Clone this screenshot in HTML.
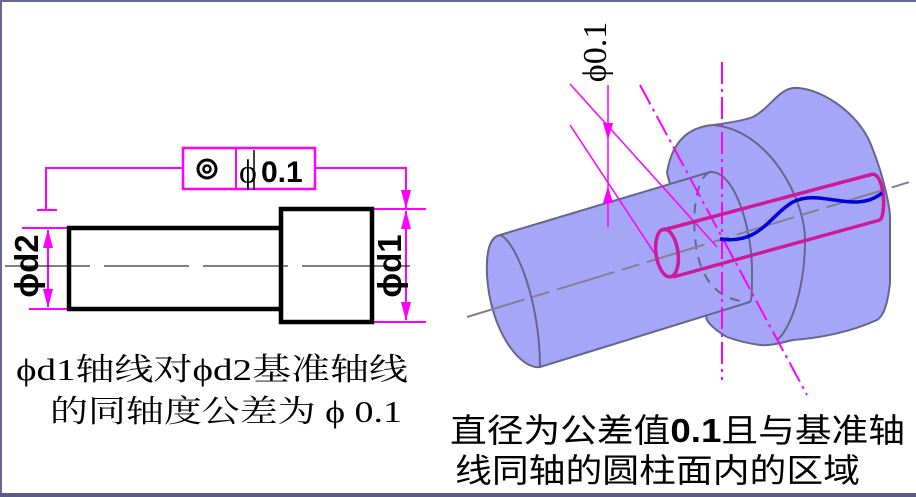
<!DOCTYPE html>
<html><head><meta charset="utf-8"><style>
html,body{margin:0;padding:0;background:#fff}
svg{display:block}
</style></head><body>
<svg width="916" height="497" viewBox="0 0 916 497" xmlns="http://www.w3.org/2000/svg">
<rect width="916" height="497" fill="#fff"/>
<rect x="0" y="0" width="916" height="2" fill="#66669a"/>
<rect x="0" y="0" width="2" height="497" fill="#66669a"/>
<rect x="0" y="493" width="916" height="4" fill="#5a5a88"/>

<!-- Left drawing -->
<g stroke="#ff00ff" stroke-width="2" fill="none">
  <polyline points="183,168 46,168 46,210"/>
  <line x1="37" y1="210" x2="57" y2="210"/>
  <polyline points="315,168 406,168 406,208"/>
  <rect x="183" y="148" width="132" height="41" stroke-width="2.5"/>
  <line x1="236" y1="148" x2="236" y2="189"/>
  <line x1="22" y1="228" x2="70" y2="228"/>
  <line x1="29" y1="309" x2="70" y2="309"/>
  <line x1="48" y1="230" x2="48" y2="307"/>
  <line x1="372" y1="209" x2="426" y2="209"/>
  <line x1="372" y1="322" x2="426" y2="322"/>
  <line x1="406" y1="211" x2="406" y2="320"/>
</g>
<g fill="#ff00ff">
  <polygon points="401,190 411,190 406,209"/>
  <polygon points="401,229 411,229 406,210"/>
  <polygon points="401,302 411,302 406,321"/>
  <polygon points="43,248 53,248 48,229"/>
  <polygon points="43,289 53,289 48,308"/>
</g>
<circle cx="207" cy="169" r="9" fill="none" stroke="#000" stroke-width="3"/>
<circle cx="207" cy="169" r="3.5" fill="none" stroke="#000" stroke-width="2.5"/>
<text x="239" y="183" font-family="Liberation Serif, serif" font-size="34">ϕ</text>
<line x1="254" y1="150" x2="254" y2="190" stroke="#000" stroke-width="1.5"/>
<text x="261" y="182" font-family="Liberation Sans, sans-serif" font-weight="bold" font-size="30">0.1</text>
<g stroke="#000" stroke-width="4.5" fill="none">
  <polyline points="280,228 69,228 69,309 280,309"/>
  <rect x="281" y="209" width="91" height="113"/>
</g>
<line x1="5" y1="266" x2="410" y2="266" stroke="#000" stroke-width="1" stroke-dasharray="85,14"/>
<text transform="translate(38,266) rotate(-90)" text-anchor="middle" font-family="Liberation Sans, sans-serif" font-weight="bold" font-size="33">ϕd2</text>
<text transform="translate(401,266) rotate(-90)" text-anchor="middle" font-family="Liberation Sans, sans-serif" font-weight="bold" font-size="33">ϕd1</text>

<text x="16" y="380" font-family="Liberation Serif, 'Noto Serif CJK SC', serif" font-size="31" textLength="392" lengthAdjust="spacingAndGlyphs">ϕd1轴线对ϕd2基准轴线</text>
<text x="50" y="422" font-family="Liberation Serif, 'Noto Serif CJK SC', serif" font-size="31" textLength="352" lengthAdjust="spacingAndGlyphs">的同轴度公差为 ϕ 0.1</text>

<!-- Right drawing -->
<g stroke="#66668a" stroke-width="2" fill="#a6a6f8">
  <path d="M667,173 C672,140 690,127 713,125 C735,122 745,120 753,117 C770,108 778,90 793,88 C815,86 860,110 873,150 C885,180 890,210 890,217 L890,283 C888,300 885,315 877,320 C850,332 820,338 793,340 C780,343 770,346 760,345 C745,343 735,340 727,337 C715,330 710,325 707,320 Z"/>
</g>
<path d="M713,125 C770,130 805,200 805,240 C805,290 790,330 777,340" fill="none" stroke="#66668a" stroke-width="2"/>
<g stroke="#66668a" stroke-width="2" fill="#a6a6f8">
  <path d="M500,235 L710,172 C735,170 752,230 752,270 C752,290 752,300 750,302 L540,367 C520,370 490,330 487,275 C486,250 490,237 500,235 Z"/>
</g>
<path d="M500,235 C515,240 540,300 540,367" fill="none" stroke="#66668a" stroke-width="2"/>
<path d="M710,172 C690,180 690,250 705,275 C715,295 735,302 750,302" fill="none" stroke="#66668a" stroke-width="2" stroke-dasharray="10,8"/>
<line x1="467" y1="317" x2="916" y2="180" stroke="#808090" stroke-width="2" stroke-dasharray="60,8,18,8"/>

<!-- magenta lines -->
<g stroke="#ff00ff" fill="none">
  <line x1="722" y1="62" x2="722" y2="380" stroke-width="2" stroke-dasharray="22,5,3,5"/>
  <line x1="640" y1="85" x2="807" y2="395" stroke-width="2" stroke-dasharray="22,5,3,5"/>
  <line x1="570" y1="84" x2="717" y2="247" stroke-width="1.5"/>
  <line x1="570" y1="125" x2="657" y2="257" stroke-width="1.5"/>
  <line x1="608" y1="85" x2="608" y2="227" stroke-width="1.5"/>
</g>
<polygon points="603,123 613,123 608,140" fill="#ff00ff"/>
<polygon points="603,203 613,203 608,186" fill="#ff00ff"/>
<text transform="translate(606,52) rotate(-90)" text-anchor="middle" font-family="Liberation Serif, serif" font-size="34">ϕ0.1</text>

<!-- tolerance zone -->
<g stroke="#cc1a99" stroke-width="3.5" fill="none">
  <ellipse cx="667" cy="253" rx="11" ry="24" transform="rotate(-8 667 253)"/>
  <line x1="663" y1="230" x2="873" y2="174"/>
  <line x1="673" y1="277" x2="880" y2="220"/>
  <path d="M873,174 C885,176 886,215 880,220"/>
</g>
<path d="M720,239 C760,245 770,215 793,202 C820,188 855,215 882,193" fill="none" stroke="#0000dd" stroke-width="3.5"/>

<text x="450" y="442" font-family="Liberation Sans, 'Noto Sans CJK SC', sans-serif" font-size="33" textLength="455" lengthAdjust="spacingAndGlyphs">直径为公差值<tspan font-weight="bold">0.1</tspan>且与基准轴</text>
<text x="455" y="482" font-family="Liberation Sans, 'Noto Sans CJK SC', sans-serif" font-size="33" textLength="405" lengthAdjust="spacingAndGlyphs">线同轴的圆柱面内的区域</text>
</svg>
</body></html>
